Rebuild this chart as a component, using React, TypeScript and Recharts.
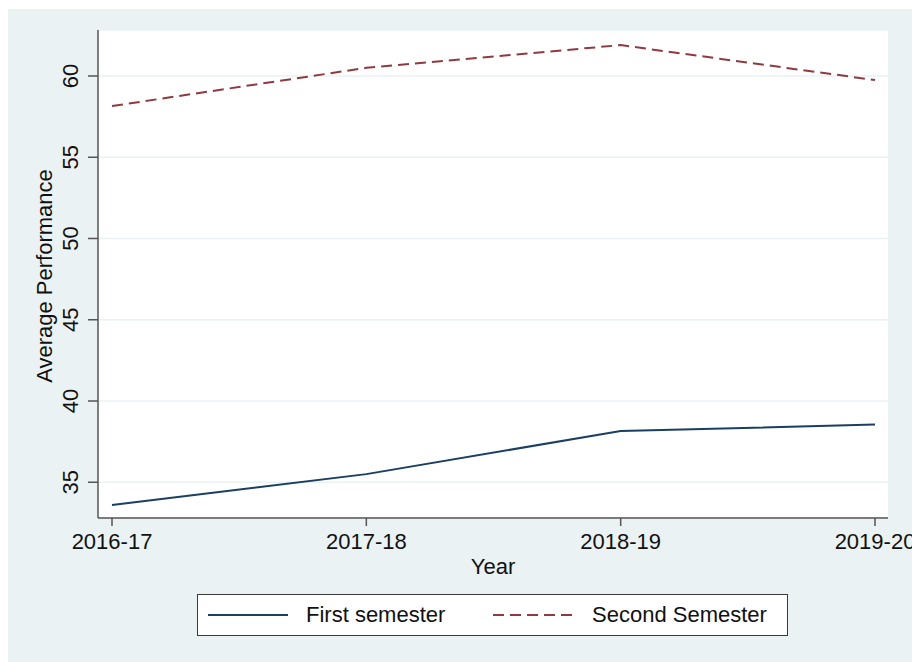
import React from "react";
import { CartesianGrid, Label, Legend, Line, LineChart, XAxis, YAxis } from "recharts";

const years = ["2016-17", "2017-18", "2018-19", "2019-20"];
const firstSemester = [33.6, 35.5, 38.15, 38.55];
const secondSemester = [58.15, 60.5, 61.9, 59.75];
const yTicks = [35, 40, 45, 50, 55, 60];

const data = years.map((year, i) => ({
  year,
  first: firstSemester[i],
  second: secondSemester[i]
}));

const FONT = "'Liberation Sans', Arial, sans-serif";
const NAVY = "#1a3f62";
const MAROON = "#8f3a40";
const BG = "#eaf2f3";

function YTick({ x, y, payload }: any) {
  const tx = x - 2;
  return (
    <text
      x={tx}
      y={y}
      transform={`rotate(-90, ${tx}, ${y})`}
      textAnchor="middle"
      fontSize={22}
      fontFamily={FONT}
      fill="#111"
    >
      {payload.value}
    </text>
  );
}

function LegendBox() {
  return (
    <div
      style={{
        position: "relative",
        width: 591,
        height: 42,
        boxSizing: "border-box",
        border: "1px solid #3a3a3a",
        background: "#fff",
        fontFamily: FONT,
        fontSize: 22,
        color: "#111"
      }}
    >
      <svg width={591} height={40} style={{ position: "absolute", left: 0, top: 0 }}>
        <line x1={10} x2={90} y1={20} y2={20} stroke={NAVY} strokeWidth={2} />
        <line x1={295} x2={380} y1={20} y2={20} stroke={MAROON} strokeWidth={2} strokeDasharray="11 6" />
      </svg>
      <span style={{ position: "absolute", left: 108, top: 7, lineHeight: "26px" }}>First semester</span>
      <span style={{ position: "absolute", left: 394, top: 7, lineHeight: "26px" }}>Second Semester</span>
    </div>
  );
}

export default function App() {
  return (
    <div>
      <style>{"body{margin:0;overflow:hidden;background:#fff}"}</style>
      <div style={{ marginLeft: 8, marginTop: 9, width: 904, height: 653, background: BG }}>
        <LineChart
          width={904}
          height={653}
          data={data}
          margin={{ top: 21, right: 24, left: 0, bottom: 74 }}
        >
          <CartesianGrid fill="#fff" stroke={BG} strokeWidth={1.5} vertical={false} />
          <XAxis
            dataKey="year"
            height={70}
            padding={{ left: 14, right: 13 }}
            tickSize={8}
            tickMargin={7}
            tick={{ fontSize: 22, fontFamily: FONT, fill: "#111" }}
            axisLine={{ stroke: "#555", strokeWidth: 1.5 }}
            tickLine={{ stroke: "#555", strokeWidth: 1.5 }}
            interval={0}
          >
            <Label
              value="Year"
              position="insideBottom"
              offset={14}
              style={{ fontSize: 22, fontFamily: FONT, fill: "#111" }}
            />
          </XAxis>
          <YAxis
            width={90}
            domain={[32.8, 62.83]}
            ticks={yTicks}
            tickSize={10}
            tickMargin={8}
            tick={<YTick />}
            axisLine={{ stroke: "#555", strokeWidth: 1.5 }}
            tickLine={{ stroke: "#555", strokeWidth: 1.5 }}
            allowDataOverflow
          >
            <Label
              content={() => (
                <text
                  x={44}
                  y={267}
                  transform="rotate(-90, 44, 267)"
                  textAnchor="middle"
                  fontSize={22}
                  fontFamily={FONT}
                  fill="#111"
                >
                  Average Performance
                </text>
              )}
            />
          </YAxis>
          <Legend
            layout="horizontal"
            verticalAlign="middle"
            align="center"
            content={() => <LegendBox />}
            wrapperStyle={{ left: 189, top: 585, width: 591, height: 42, right: "auto", bottom: "auto" }}
          />
          <Line
            type="linear"
            dataKey="first"
            name="First semester"
            stroke={NAVY}
            strokeWidth={2}
            dot={false}
            isAnimationActive={false}
          />
          <Line
            type="linear"
            dataKey="second"
            name="Second Semester"
            stroke={MAROON}
            strokeWidth={2}
            strokeDasharray="11 6"
            dot={false}
            isAnimationActive={false}
          />
        </LineChart>
      </div>
    </div>
  );
}
